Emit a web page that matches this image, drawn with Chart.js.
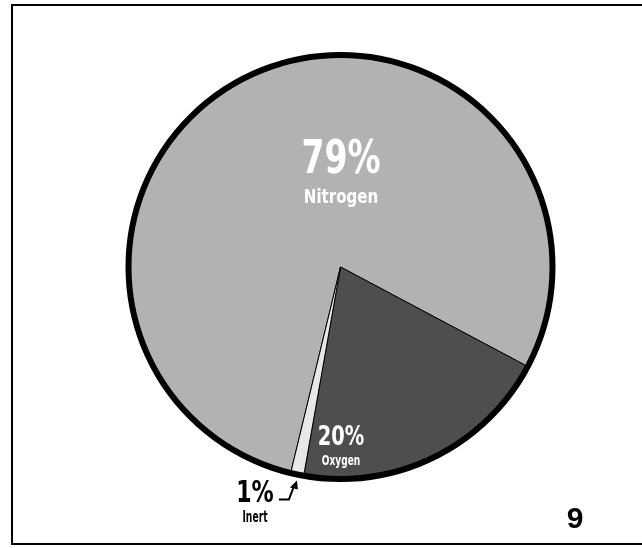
<!DOCTYPE html>
<html>
<head>
<meta charset="utf-8">
<title>Air composition</title>
<script src="https://cdn.jsdelivr.net/npm/chart.js@4.4.1/dist/chart.umd.min.js"></script>
<style>
  html, body { margin: 0; padding: 0; background: #fff; }
  body { width: 642px; height: 548px; position: relative; overflow: hidden; }
  #frame {
    position: absolute; left: 11px; top: 4px;
    width: 700px; height: 541px;
    box-sizing: border-box; border: 2px solid #000;
  }
  #airChart { position: absolute; left: 0; top: 0; }
</style>
</head>
<body>
<div id="frame"></div>
<canvas id="airChart" width="642" height="548"></canvas>

<script>
const categories = ["Nitrogen", "Oxygen", "Inert"];
const percentValues = [79, 20, 1];
const percentLabels = ["79%", "20%", "1%"];
const sliceColors = ["#b2b2b2", "#4e4e4e", "#e8e8e8"];
const pageNumber = "9";

const NARROW = '"Liberation Sans Narrow", "DejaVu Sans Condensed", sans-serif';

// where each label sits, relative to the pie centre (baselines)
// sx / ssx squeeze the text sideways, the printed face is condensed
const labelLayout = [
  { dx: 0.5, dy: -94, big: 46, small: 19, gap: 30, sx: 0.8, ssx: 0.88, color: "#fff" },
  { dx: 0.5, dy: 178, big: 27, small: 14, gap: 20, sx: 0.8, ssx: 0.72, color: "#fff" },
  { dx: -85.5, dy: 235, big: 30, small: 15, gap: 20, sx: 0.82, ssx: 0.68, color: "#000" },
];

function squeezedText(ctx, text, x, y, sx) {
  ctx.save();
  ctx.translate(x, y);
  ctx.scale(sx, 1);
  ctx.fillText(text, 0, 0);
  ctx.restore();
}

const outerRing = {
  id: "outerRing",
  afterDatasetsDraw(chart) {
    const arc = chart.getDatasetMeta(0).data[0];
    if (!arc) return;
    const ctx = chart.ctx;
    ctx.save();
    ctx.beginPath();
    ctx.arc(arc.x, arc.y, arc.outerRadius, 0, Math.PI * 2);
    ctx.lineWidth = 6;
    ctx.strokeStyle = "#000";
    ctx.stroke();
    ctx.restore();
  }
};

const sliceLabels = {
  id: "sliceLabels",
  afterDraw(chart) {
    const meta = chart.getDatasetMeta(0);
    const ctx = chart.ctx;
    const cx = meta.data[0].x;
    const cy = meta.data[0].y;

    ctx.save();
    ctx.textAlign = "center";
    ctx.textBaseline = "alphabetic";

    labelLayout.forEach((l, i) => {
      ctx.fillStyle = l.color;
      ctx.font = `bold ${l.big}px ${NARROW}`;
      squeezedText(ctx, percentLabels[i], cx + l.dx, cy + l.dy, l.sx);
      ctx.font = `bold ${l.small}px ${NARROW}`;
      squeezedText(ctx, categories[i], cx + l.dx, cy + l.dy + l.gap, l.ssx);
    });

    // little arrow pointing at the inert slice
    const inert = meta.data[2];
    const mid = (inert.startAngle + inert.endAngle) / 2;
    const tx = inert.x + (inert.outerRadius + 6) * Math.cos(mid);
    const ty = inert.y + (inert.outerRadius + 6) * Math.sin(mid);
    ctx.strokeStyle = "#000";
    ctx.fillStyle = "#000";
    ctx.lineWidth = 2;
    ctx.beginPath();
    ctx.moveTo(tx - 17, ty + 19);
    ctx.lineTo(tx - 7, ty + 19);
    ctx.lineTo(tx - 2, ty + 6);
    ctx.stroke();
    ctx.beginPath();
    ctx.moveTo(tx + 1, ty);
    ctx.lineTo(tx - 6, ty + 7);
    ctx.lineTo(tx + 2, ty + 9);
    ctx.closePath();
    ctx.fill();

    // page number
    ctx.font = 'bold 30px "Liberation Sans", Arial, sans-serif';
    ctx.fillText(pageNumber, 575, 528);
    ctx.restore();
  }
};

new Chart(document.getElementById("airChart").getContext("2d"), {
  type: "pie",
  data: {
    labels: categories,
    datasets: [{
      data: percentValues,
      backgroundColor: sliceColors,
      borderColor: "#000",
      borderWidth: 1,
    }],
  },
  options: {
    responsive: false,
    animation: false,
    rotation: 193.6,
    events: [],
    layout: {
      padding: { left: 128, right: 89, top: 54, bottom: 68 },
    },
    plugins: {
      legend: { display: false },
      tooltip: { enabled: false },
    },
  },
  plugins: [outerRing, sliceLabels],
});
</script>
</body>
</html>
